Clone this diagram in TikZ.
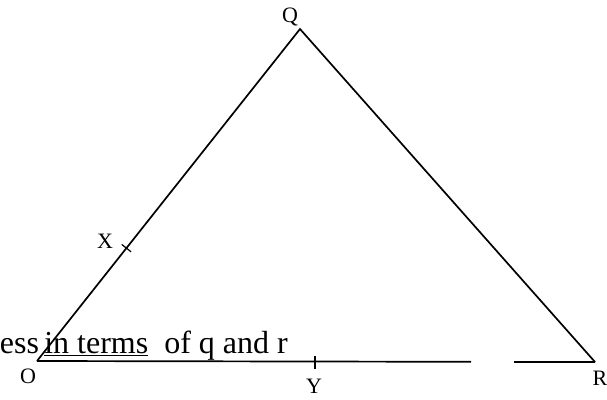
\documentclass[tikz,border=0pt]{standalone}
\usepackage{fontspec}
\setmainfont{Liberation Serif}
\usetikzlibrary{calc}

\begin{document}
\begin{tikzpicture}[x=1pt,y=-1pt,line width=1.7pt,
    vlabel/.style={inner sep=0pt,font=\fontsize{22}{22}\selectfont},
    tick/.style={line width=1.2pt}]
    % page frame
    \useasboundingbox (0,0) rectangle (607,399);
    % corners of the triangle
    \coordinate (O) at (37,361);
    \coordinate (Q) at (300,29);
    \coordinate (R) at (595,362);
    % points on the sides
    \coordinate (X) at ($(O)!0.34!(Q)$);
    \coordinate (Y) at (315,361.5);
    % ends of the gap in the base
    \coordinate (G1) at (471,361.8);
    \coordinate (G2) at (514,361.9);
    % sides
    \draw (O) -- (Q) -- (R);
    \draw (O) -- (G1);
    \draw (G2) -- (R);
    % ticks
    \draw[tick] ($(X)!6pt!90:(Q)$) -- ($(X)!6pt!-90:(Q)$);
    \draw[tick] ($(Y)+(0,-6)$) -- ($(Y)+(0,7)$);
    % labels
    \node[vlabel] (lQ) at (290,17) {Q};
    \node[vlabel] (lO) at (28,376) {O};
    \node[vlabel] (lR) at (600,378) {R};
    \node[vlabel] (lX) at (105,241) {X};
    \node[vlabel] (lY) at (314,386) {Y};
    % overlaid text
    \node[anchor=base west,inner sep=0pt,font=\fontsize{32}{32}\selectfont] (txt) at (-1,353) {ess\,\underline{in terms}\ \ of q and r};
\end{tikzpicture}
\end{document}
